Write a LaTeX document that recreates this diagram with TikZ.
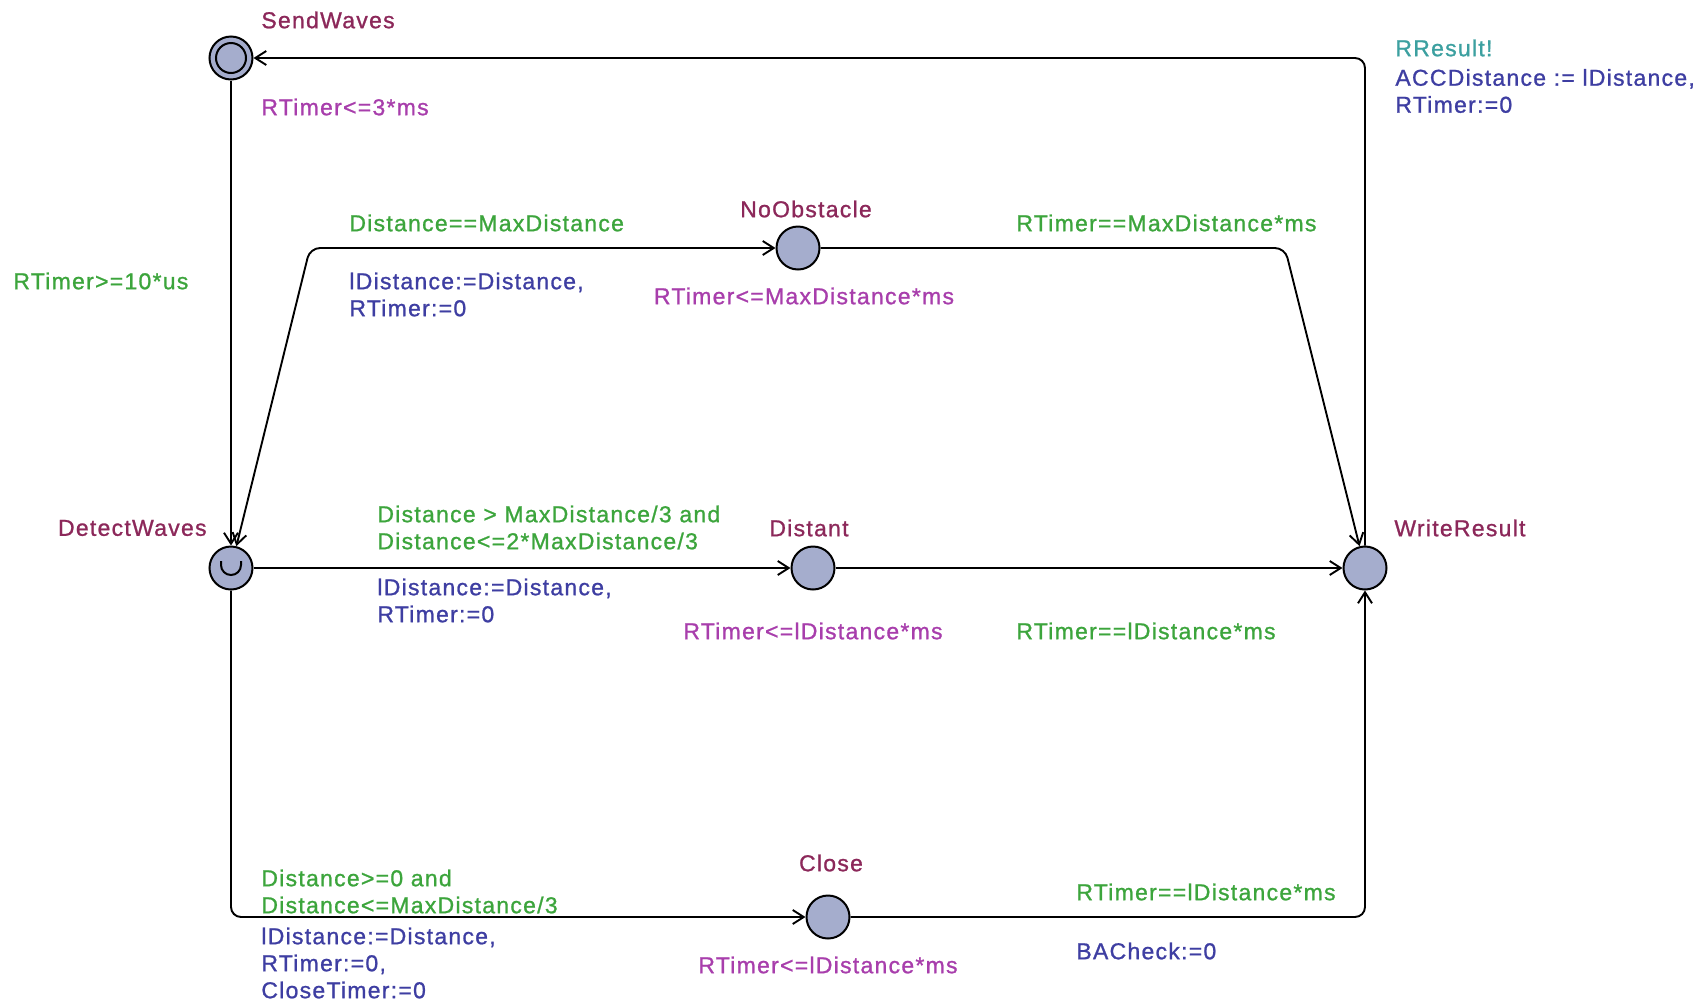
\documentclass[tikz,border=0pt]{standalone}
\usepackage{fontspec}
\setmainfont{Liberation Sans}[LetterSpace=5.5,FakeBold=1]
\usetikzlibrary{arrows.meta}
\definecolor{locname}{RGB}{140,40,90}
\definecolor{invcol}{RGB}{168,62,172}
\definecolor{guardcol}{RGB}{60,165,60}
\definecolor{assigncol}{RGB}{62,62,162}
\definecolor{synccol}{RGB}{60,160,160}
\definecolor{locfill}{RGB}{165,173,205}
\begin{document}
\begin{tikzpicture}[x=0.5pt,y=-0.5pt,
  >={Straight Barb[length=5.5pt,width=7pt]},
  loc/.style={circle,draw=black,line width=1pt,fill=locfill,minimum size=21.5pt,inner sep=0pt},
  edge/.style={line width=0.95pt,->,rounded corners=5pt},
  txt/.style={inner sep=0pt,font=\fontsize{11.5}{13.5}\selectfont,align=left},
  lname/.style={txt,text=locname},
  inv/.style={txt,text=invcol},
  guard/.style={txt,text=guardcol,anchor=west},
  assign/.style={txt,text=assigncol,anchor=west},
  sync/.style={txt,text=synccol,anchor=west}]
\useasboundingbox (0,0) rectangle (1708,1002);
\fill[white] (0,0) rectangle (1708,1002);

% locations
\node[loc] (SW) at (231,58) {};
\draw[line width=1pt] (SW.center) circle[radius=7.5pt];
\node[loc] (DW) at (231,568) {};
\draw[line width=1pt] (DW.center) ++(-5pt,3.5pt) -- ++(0pt,-2pt) arc[start angle=180,end angle=360,radius=5pt] -- ++(0pt,2pt);
\node[loc] (NO) at (798,248) {};
\node[loc] (DI) at (813,568) {};
\node[loc] (WR) at (1365,568) {};
\node[loc] (CL) at (828,917) {};

% location names and invariants
\node[lname,anchor=west] (nSW) at (261,20) {SendWaves};
\node[inv,anchor=west] (iSW) at (261,107) {RTimer<=3*ms};
\node[lname,anchor=east] (nDW) at (207,528) {DetectWaves};
\node[lname] (nNO) at (806,209) {NoObstacle};
\node[inv] (iNO) at (804,296) {RTimer<=MaxDistance*ms};
\node[lname] (nDI) at (809,528) {Distant};
\node[inv] (iDI) at (813,631) {RTimer<=lDistance*ms};
\node[lname,anchor=west] (nWR) at (1394,528) {WriteResult};
\node[lname] (nCL) at (831,863) {Close};
\node[inv] (iCL) at (828,965) {RTimer<=lDistance*ms};

% nails
\coordinate (c1) at (310,248);
\coordinate (c2) at (1285,248);
\coordinate (c3) at (231,917);
\coordinate (c4) at (1365,917);
\coordinate (c5) at (1365,58);

% edges
\draw[edge] (SW) -- (DW);
\node[guard] (g1) at (13,281) {RTimer>=10*us};

\draw[edge,<->] (DW) -- (c1) -- (NO);
\node[guard] (g2) at (349,223) {Distance==MaxDistance};
\node[assign] (a2) at (349,294.5) {lDistance:=Distance,\\RTimer:=0};

\draw[edge] (NO) -- (c2) -- (WR);
\node[guard] (g3) at (1016,223) {RTimer==MaxDistance*ms};

\draw[edge] (DW) -- (DI);
\node[guard] (g4) at (377,527.5) {Distance > MaxDistance/3 and\\Distance<=2*MaxDistance/3};
\node[assign] (a4) at (377,600.5) {lDistance:=Distance,\\RTimer:=0};

\draw[edge] (DI) -- (WR);
\node[guard] (g5) at (1016,631) {RTimer==lDistance*ms};

\draw[edge] (DW) -- (c3) -- (CL);
\node[guard] (g6) at (261,891.5) {Distance>=0 and\\Distance<=MaxDistance/3};
\node[assign] (a6) at (261,963) {lDistance:=Distance,\\RTimer:=0,\\CloseTimer:=0};

\draw[edge] (CL) -- (c4) -- (WR);
\node[guard] (g7) at (1076,892) {RTimer==lDistance*ms};
\node[assign] (a7) at (1076,951) {BACheck:=0};

\draw[edge] (WR) -- (c5) -- (SW);
\node[sync] (s8) at (1395,48) {RResult!};
\node[assign] (a8) at (1395,91) {ACCDistance := lDistance,\\RTimer:=0};
\end{tikzpicture}
\end{document}
